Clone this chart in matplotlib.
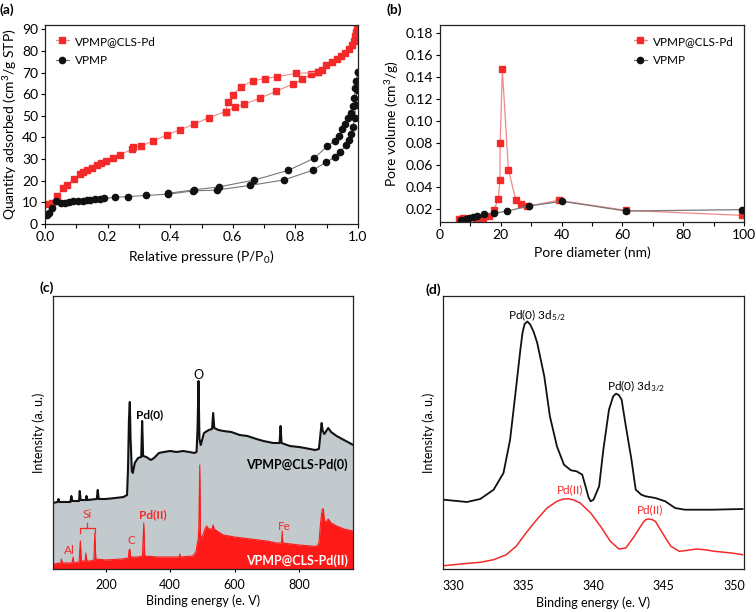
import numpy as np
import matplotlib
matplotlib.use('Agg')
import matplotlib.pyplot as plt
from matplotlib.ticker import MultipleLocator

plt.rcParams['font.family'] = ['Lato', 'DejaVu Sans']
plt.rcParams['mathtext.default'] = 'regular'

# (a) N2 isotherms
a_red_ads_p = [0.013, 0.021, 0.039, 0.059, 0.069, 0.094, 0.112, 0.122, 0.133, 0.149, 0.165, 0.179, 0.194,
               0.218, 0.239, 0.277, 0.281, 0.306, 0.346, 0.389, 0.431, 0.477, 0.524, 0.577, 0.606, 0.635,
               0.686, 0.737, 0.793, 0.822, 0.849, 0.872, 0.885, 0.899, 0.918, 0.933, 0.947, 0.959, 0.970,
               0.982, 0.988, 0.991, 0.994, 0.996]
a_red_ads_v = [9.2, 9.7, 13.0, 16.8, 17.8, 20.9, 23.0, 24.2, 24.8, 25.8, 27.2, 28.1, 29.0,
               30.5, 32.0, 34.5, 35.5, 36.0, 38.4, 41.2, 43.5, 46.2, 49.2, 52.0, 54.1, 55.3,
               58.1, 61.3, 64.8, 66.9, 69.2, 70.1, 71.0, 73.4, 74.9, 76.1, 77.6, 79.0, 80.9,
               82.7, 84.8, 87.0, 88.8, 91.2]
a_red_des_p = [0.872, 0.801, 0.741, 0.702, 0.665, 0.625, 0.601, 0.585, 0.577]
a_red_des_v = [70.1, 69.6, 68.1, 67.2, 66.3, 63.4, 59.8, 56.3, 52.0]

a_blk_ads_p = [0.007, 0.013, 0.021, 0.034, 0.050, 0.064, 0.078, 0.090, 0.106, 0.122, 0.133, 0.144, 0.160,
               0.176, 0.188, 0.223, 0.266, 0.324, 0.394, 0.473, 0.548, 0.654, 0.764, 0.856, 0.899, 0.928,
               0.944, 0.961, 0.970, 0.979, 0.984, 0.989, 0.993, 0.996, 0.999]
a_blk_ads_v = [4.2, 5.2, 7.3, 10.5, 9.8, 9.5, 10.0, 10.5, 10.8, 10.5, 11.2, 11.1, 11.5,
               11.5, 11.8, 12.3, 12.7, 13.2, 13.8, 15.3, 15.7, 17.8, 20.4, 24.9, 28.6, 31.1,
               33.4, 36.4, 38.7, 41.7, 44.7, 49.2, 55.0, 62.0, 70.4]
a_blk_des_p = [0.999, 0.995, 0.991, 0.988, 0.984, 0.978, 0.969, 0.958, 0.950, 0.938, 0.926, 0.902,
               0.860, 0.777, 0.668, 0.557, 0.477, 0.394]
a_blk_des_v = [70.4, 66.0, 62.8, 58.3, 54.5, 51.5, 49.2, 46.2, 44.0, 40.9, 38.4, 36.0,
               30.4, 24.8, 20.3, 17.2, 15.8, 14.2]

# (b) pore size distribution
b_red_d = [6.4, 7.7, 11.8, 14.0, 16.0, 17.8, 19.2, 19.7, 19.8, 20.5, 22.5, 24.9, 26.5, 28.7, 39.0, 61.2, 99.2]
b_red_v = [0.0102, 0.0114, 0.0105, 0.0117, 0.0130, 0.0191, 0.0291, 0.0458, 0.080, 0.147, 0.0556,
           0.0282, 0.0245, 0.0221, 0.0276, 0.0184, 0.0139]
b_blk_d = [6.9, 8.6, 9.7, 11.0, 12.2, 14.5, 17.8, 22.2, 29.4, 40.1, 61.2, 99.4]
b_blk_v = [0.0093, 0.0102, 0.0111, 0.0123, 0.0132, 0.0147, 0.0158, 0.0178, 0.0225, 0.0267, 0.0178, 0.0191]

# (c) XPS survey
c_blk_e = [36, 50, 53, 56, 90, 93, 96, 117, 119, 122, 138, 140, 143, 172, 175, 178, 200, 230, 255, 266,
           269, 272, 274.6, 277, 281, 284, 290, 300, 310, 313, 316, 326, 340, 350, 365, 380, 400, 420,
           440, 460, 475, 482, 485, 488, 491, 495, 505, 520, 530, 533.6, 537, 550, 565, 590, 616, 640,
           668, 690, 720, 740, 743, 746, 772, 800, 818, 850, 862, 866, 870.5, 874, 879, 891, 900, 917,
           940, 969]
c_blk_i = [66, 67, 70, 67, 67, 73, 68, 68, 78, 69, 69, 73, 69, 70, 79, 70, 70, 71, 72, 74,
           100, 150, 167, 130, 98, 96, 106, 111, 112, 148, 113, 112, 109, 111, 116, 117, 118, 117,
           118, 117, 116, 117, 140, 188, 130, 124, 136, 139, 140, 156, 141, 139, 138, 137, 134, 133,
           130, 128, 126, 126, 143, 126, 123, 122, 121, 119, 120, 132, 146, 138, 135, 141, 137, 133,
           129, 124]
c_red_e = [36, 60, 62, 65, 95, 98.4, 101, 117, 121, 124, 136, 138, 141, 150, 163, 166, 169, 200, 250,
           270, 272, 274.6, 277, 300, 314, 318, 321, 360, 400, 428, 430, 432, 470, 480, 484, 487, 489,
           492, 494, 497, 502, 508, 513, 520, 530, 533.6, 537, 550, 565, 600, 650, 700, 731, 746, 748,
           750, 800, 855, 862, 867, 870.5, 873, 876, 879, 885, 891, 900, 917, 940, 969]
c_red_i = [5, 6, 10, 6, 6, 12, 6, 7, 28, 8, 8, 16, 8, 8, 9, 36, 10, 9, 10,
           11, 18, 20, 12, 12, 13, 46, 13, 12, 12, 12, 15, 12, 13, 17, 25, 30, 40,
           104, 35, 30, 34, 40, 43, 40, 40, 44, 40, 37, 34, 32, 30, 28, 26, 26, 38,
           26, 24, 22.6, 26, 45, 56, 60, 60, 48, 47, 50, 46, 43, 40, 38]

# (d) Pd 3d
d_blk_e = [329.35, 331.0, 331.95, 332.9, 333.6, 334.07, 334.4, 334.8, 334.95, 335.1, 335.3, 335.5, 335.75,
           336.0, 336.5, 336.9, 337.4, 337.9, 338.4, 338.8, 339.2, 339.5, 339.65, 339.8, 340.0, 340.4,
           340.7, 341.1, 341.4, 341.6, 341.8, 342.0, 342.3, 342.7, 343.0, 343.4, 343.7, 344.4, 345.1,
           345.8, 346.5, 348.4, 350.6]
d_blk_i = [69.3, 67.0, 70.0, 79.3, 96.0, 129.3, 169.3, 219.3, 236.0, 245.0, 247.5, 244.5, 237.0,
           226.0, 192.7, 152.7, 122.7, 104.3, 98.7, 97.7, 94.3, 79.3, 71.5, 67.7, 69.3, 82.7,
           119.3, 159.3, 172.7, 175.3, 174.0, 169.3, 142.7, 109.3, 79.3, 74.3, 72.7, 71.0, 67.7,
           61.0, 59.3, 59.3, 60.0]
d_red_e = [329.35, 330.8, 331.95, 332.9, 333.8, 334.5, 335.2, 335.96, 336.7, 337.4, 337.8, 338.2, 338.6,
           339.05, 339.8, 340.5, 341.2, 341.8, 342.3, 342.9, 343.5, 343.7, 343.9, 344.15, 344.4, 344.9,
           345.5, 346.1, 346.7, 347.3, 347.9, 348.6, 349.8, 350.6]
d_red_i = [3.3, 5.3, 6.7, 9.3, 14.3, 22.7, 36.0, 49.3, 61.0, 67.7, 69.8, 70.3, 69.0,
           66.0, 56.0, 42.7, 27.7, 20.0, 21.0, 32.7, 46.0, 49.2, 50.0, 49.5, 47.7, 36.0,
           22.7, 17.7, 18.7, 20.0, 19.3, 17.7, 16.0, 14.3]

RED = '#f42a2a'
PINK = '#f08a8a'
W, H = 756, 612
fig = plt.figure(figsize=(W / 100, H / 100), dpi=100)


def box(l, t, r, b):
    return [l / W, 1 - b / H, (r - l) / W, (b - t) / H]


def style(ax, fs=9.5):
    for s in ax.spines.values():
        s.set_linewidth(0.9)
        s.set_color('#222222')
    ax.tick_params(which='both', direction='out', length=3, width=0.8, labelsize=fs, pad=2)


# ---- (a)
ax = fig.add_axes(box(45, 25, 358, 224))
ax.plot(a_red_ads_p, a_red_ads_v, '-s', color=PINK, mfc=RED, mec=RED, ms=4.3, lw=0.8,
        label='VPMP@CLS-Pd')
ax.plot(a_red_des_p, a_red_des_v, '-s', color=PINK, mfc=RED, mec=RED, ms=4.3, lw=0.8)
ax.plot(a_blk_ads_p, a_blk_ads_v, '-o', color='#777777', mfc='#111111', mec='#111111', ms=4.5, lw=0.8,
        label='VPMP')
ax.plot(a_blk_des_p, a_blk_des_v, '-o', color='#777777', mfc='#111111', mec='#111111', ms=4.5, lw=0.8)
ax.set_xlim(0, 1.0)
ax.set_ylim(0, 92)
ax.xaxis.set_major_locator(MultipleLocator(0.2))
ax.xaxis.set_minor_locator(MultipleLocator(0.1))
ax.yaxis.set_major_locator(MultipleLocator(10))
ax.xaxis.set_major_formatter(matplotlib.ticker.FormatStrFormatter('%.1f'))
style(ax, 10)
ax.set_xlabel('Relative pressure (P/P$_0$)', fontsize=10, labelpad=4)
ax.set_ylabel('Quantity adsorbed (cm$^3$/g STP)', fontsize=10, labelpad=2)
ax.legend(loc='upper left', frameon=False, fontsize=8.5, handlelength=1.1, handletextpad=0.5,
          bbox_to_anchor=(0.0, 1.0), borderaxespad=0.5, labelspacing=0.75)
fig.text(0 / W, 1 - 10 / H, '(a)', fontsize=10, fontweight='bold', va='center', ha='left')

# ---- (b)
ax = fig.add_axes(box(440, 25, 744, 222))
ax.plot(b_red_d, b_red_v, '-s', color=PINK, mfc=RED, mec=RED, ms=4.3, lw=0.9, label='VPMP@CLS-Pd')
ax.plot(b_blk_d, b_blk_v, '-o', color='#777777', mfc='#111111', mec='#111111', ms=4.5, lw=0.9, label='VPMP')
ax.set_xlim(0, 100)
ax.set_ylim(0.0078, 0.1876)
ax.xaxis.set_major_locator(MultipleLocator(20))
ax.xaxis.set_minor_locator(MultipleLocator(10))
ax.set_yticks(np.arange(0.02, 0.181, 0.02))
ax.yaxis.set_major_formatter(matplotlib.ticker.FormatStrFormatter('%.2f'))
style(ax, 10)
ax.set_xlabel('Pore diameter (nm)', fontsize=10, labelpad=4)
ax.set_ylabel('Pore volume (cm$^3$/g)', fontsize=10, labelpad=3)
ax.legend(loc='upper left', frameon=False, fontsize=8.5, handlelength=1.1, handletextpad=0.5,
          bbox_to_anchor=(0.602, 1.0), borderaxespad=0.5, labelspacing=0.75)
fig.text(387 / W, 1 - 10 / H, '(b)', fontsize=10, fontweight='bold', va='center', ha='left')

# ---- (c)
ax = fig.add_axes(box(53, 296, 353, 569))
ax.fill_between(c_blk_e, 0, c_blk_i, color='#c2cacd', lw=0)
ax.plot(c_blk_e, c_blk_i, color='#111111', lw=1.5)
ax.fill_between(c_red_e, 0, c_red_i, color='#ff1a1a', lw=0)
ax.plot(c_red_e, c_red_i, color='#ff1a1a', lw=0.8)
ax.set_xlim(36, 968)
ax.set_ylim(0, 273)
ax.set_xticks([200, 400, 600, 800])
ax.set_yticks([])
style(ax, 9)
ax.tick_params(axis='x', length=2, pad=5)
ax.set_xlabel('Binding energy (e. V)', fontsize=9, labelpad=3)
ax.set_ylabel('Intensity (a. u.)', fontsize=9, labelpad=6)
ax.text(487, 194, 'O', fontsize=9, ha='center', va='center')
ax.text(337, 154, 'Pd(0)', fontsize=8.5, fontweight='bold', ha='center', va='center')
ax.text(952, 104, 'VPMP@CLS-Pd(0)', fontsize=9, fontweight='bold', ha='right', va='center')
ax.text(952, 8, 'VPMP@CLS-Pd(II)', fontsize=9, fontweight='bold', ha='right', va='center', color='white')
ax.text(142, 54, 'Si', fontsize=8.5, color=RED, ha='center', va='center')
ax.plot([119, 119, 166, 166], [36, 41, 41, 36], color=RED, lw=0.9)
ax.plot([142, 142], [41, 46], color=RED, lw=0.9)
ax.text(345, 54, 'Pd(II)', fontsize=8.5, fontweight='bold', color=RED, ha='center', va='center')
ax.text(86, 18, 'Al', fontsize=8.5, color=RED, ha='center', va='center')
ax.text(278, 29, 'C', fontsize=8.5, color=RED, ha='center', va='center')
ax.text(754, 43, 'Fe', fontsize=8.5, color=RED, ha='center', va='center')
fig.text(39 / W, 1 - 288 / H, '(c)', fontsize=10, fontweight='bold', va='center', ha='left')

# ---- (d)
ax = fig.add_axes(box(443, 296, 744, 569))
ax.plot(d_blk_e, d_blk_i, color='#111111', lw=1.3)
ax.plot(d_red_e, d_red_i, color='#f22a2a', lw=1.1)
ax.set_xlim(329.3, 350.7)
ax.set_ylim(0, 273)
ax.set_xticks([330, 335, 340, 345, 350])
ax.set_yticks([])
style(ax, 9)
ax.tick_params(axis='x', length=0, pad=8)
ax.set_xlabel('Binding energy (e. V)', fontsize=9, labelpad=3)
ax.set_ylabel('Intensity (a. u.)', fontsize=9, labelpad=6)
ax.text(336.0, 254, 'Pd(0) 3d$_{5/2}$', fontsize=8.5, ha='center', va='center')
ax.text(343.0, 183, 'Pd(0) 3d$_{3/2}$', fontsize=8.5, ha='center', va='center')
ax.text(338.3, 79, 'Pd(II)', fontsize=8.5, color=RED, ha='center', va='center')
ax.text(344.05, 59, 'Pd(II)', fontsize=8.5, color=RED, ha='center', va='center')
fig.text(425 / W, 1 - 290 / H, '(d)', fontsize=10, fontweight='bold', va='center', ha='left')

fig.savefig('out.png', dpi=100)
